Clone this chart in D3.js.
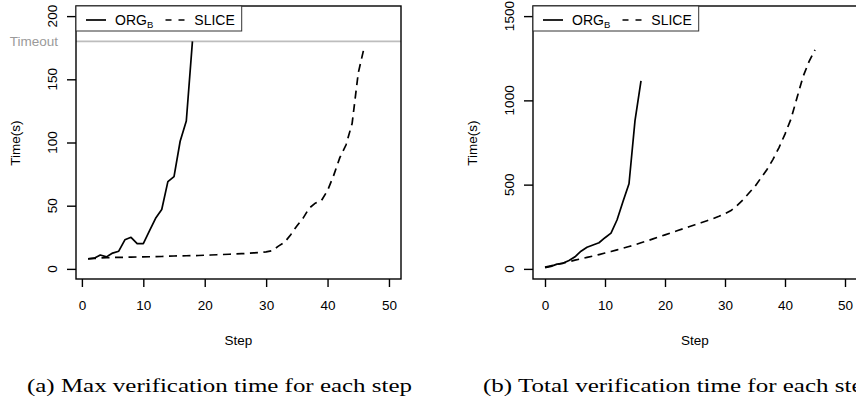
<!DOCTYPE html>
<html>
<head>
<meta charset="utf-8">
<script src="https://cdn.jsdelivr.net/npm/d3@7"></script>
<style>
  body { margin: 0; background: #fff; }
  svg { display: block; }
  text { font-family: "Liberation Sans", Arial, sans-serif; }
  text.caption { font-family: "Liberation Serif", "Times New Roman", serif; }
</style>
</head>
<body>
<svg width="856" height="406"></svg>
<script>
// (a) max verification time per step
var maxSteps = d3.range(1, 47);
var maxOrgB = [8, 8.5, 11, 9.5, 12.5, 14, 23, 25, 20, 20, 30, 40, 47, 69, 73, 101, 117, 180];
var maxSlice = [8, 8.3, 8.6, 8.8, 9, 9.1, 9.2, 9.3, 9.4, 9.5, 9.6, 9.7, 9.8, 10, 10.2, 10.3,
  10.4, 10.5, 10.6, 10.8, 11, 11.2, 11.4, 11.6, 11.8, 12, 12.3, 12.6, 13, 13.4, 14.5, 18,
  21, 27, 34, 40, 48, 52, 54, 62, 74, 88, 98, 115, 155, 176];
var timeout = 180;

// (b) total verification time per step
var totSteps = d3.range(0, 46);
var totOrgB = [8, 15, 28, 33, 50, 72, 105, 128, 142, 155, 185, 212, 290, 400, 505, 880, 1115];
var totSlice = [10, 18, 26, 35, 43, 52, 60, 68, 76, 85, 94, 103, 113, 123, 133, 143, 155, 166,
  178, 190, 202, 214, 226, 238, 250, 262, 274, 286, 298, 312, 328, 346, 375, 410, 450, 490,
  540, 590, 650, 720, 800, 890, 1015, 1140, 1230, 1300];

var xTicks = [0, 10, 20, 30, 40, 50];
var yTicksA = [0, 50, 100, 150, 200];
var yTicksB = [0, 500, 1000, 1500];

var svg = d3.select('svg');

function drawPanel(opt) {
    var x = d3.scaleLinear().domain(opt.xDomain).range([opt.left, opt.right]);
    var y = d3.scaleLinear().domain(opt.yDomain).range([279, 6]);
    var g = svg.append('g');

    // x axis ticks
    var xa = g.append('g')
        .attr('transform', 'translate(0,279)')
        .call(d3.axisBottom(x).tickValues(xTicks).tickSize(8).tickPadding(13));
    xa.select('.domain').remove();
    xa.selectAll('line').attr('stroke-width', 1.4);
    xa.selectAll('text').attr('font-size', 13.5);

    // y axis ticks
    var ya = g.append('g')
        .attr('transform', 'translate(' + opt.left + ',0)')
        .call(d3.axisLeft(y).tickValues(opt.yTicks).tickSize(9).tickFormat(''));
    ya.select('.domain').remove();
    ya.selectAll('line').attr('stroke-width', 1.4);

    g.selectAll('.ylab')
        .data(opt.yTicks)
        .enter().append('text')
        .attr('class', 'ylab')
        .attr('transform', function(d) {
            return 'translate(' + (opt.left - 19.5) + ',' + y(d) + ') rotate(-90)';
        })
        .attr('text-anchor', 'middle')
        .attr('font-size', 13.5)
        .text(function(d) { return d; });

    // axis titles
    g.append('text')
        .attr('transform', 'translate(' + (opt.left - 56) + ',143) rotate(-90)')
        .attr('text-anchor', 'middle')
        .attr('font-size', 13.5)
        .text('Time(s)');
    g.append('text')
        .attr('x', (opt.left + opt.right) / 2)
        .attr('y', 345)
        .attr('text-anchor', 'middle')
        .attr('font-size', 13.5)
        .text('Step');

    if (opt.timeout) {
        g.append('line')
            .attr('x1', opt.left).attr('x2', opt.right)
            .attr('y1', y(opt.timeout)).attr('y2', y(opt.timeout))
            .attr('stroke', '#bdbdbd').attr('stroke-width', 1.6);
        g.append('text')
            .attr('x', 58).attr('y', y(opt.timeout) + 4.8)
            .attr('text-anchor', 'end')
            .attr('font-size', 13.5)
            .attr('fill', '#9a9a9a')
            .text('Timeout');
    }

    var line = d3.line()
        .x(function(d) { return x(d[0]); })
        .y(function(d) { return y(d[1]); });

    g.append('path')
        .datum(opt.orgB.map(function(v, i) { return [opt.steps[i], v]; }))
        .attr('d', line)
        .attr('fill', 'none').attr('stroke', '#000').attr('stroke-width', 1.7)
        .attr('stroke-linejoin', 'round');
    g.append('path')
        .datum(opt.slice.map(function(v, i) { return [opt.steps[i], v]; }))
        .attr('d', line)
        .attr('fill', 'none').attr('stroke', '#000').attr('stroke-width', 1.7)
        .attr('stroke-dasharray', '8,5.5');

    // box
    g.append('rect')
        .attr('x', opt.left).attr('y', 6)
        .attr('width', opt.right - opt.left).attr('height', 273)
        .attr('fill', 'none').attr('stroke', '#000').attr('stroke-width', 1.4);

    // legend
    var lg = g.append('g').attr('transform', 'translate(' + opt.left + ',6)');
    lg.append('rect')
        .attr('width', 165.7).attr('height', 25)
        .attr('fill', '#fff').attr('stroke', '#333').attr('stroke-width', 1);
    lg.append('line')
        .attr('x1', 10).attr('x2', 30).attr('y1', 14).attr('y2', 14)
        .attr('stroke', '#000').attr('stroke-width', 1.7);
    lg.append('line')
        .attr('x1', 89.5).attr('x2', 109.5).attr('y1', 14).attr('y2', 14)
        .attr('stroke', '#000').attr('stroke-width', 1.7)
        .attr('stroke-dasharray', '6,7');
    var t = lg.append('text')
        .attr('x', 39).attr('y', 19)
        .attr('font-size', 14);
    t.append('tspan').text('ORG');
    t.append('tspan').attr('font-size', 9.5).attr('dy', 3).text('B');
    lg.append('text')
        .attr('x', 118.3).attr('y', 19)
        .attr('font-size', 14)
        .text('SLICE');
}

drawPanel({
    left: 76, right: 401,
    xDomain: [-0.96, 51.96], yDomain: [-8, 208],
    steps: maxSteps, orgB: maxOrgB, slice: maxSlice,
    yTicks: yTicksA, timeout: timeout
});
drawPanel({
    left: 533, right: 857,
    xDomain: [-2, 52], yDomain: [-60, 1560],
    steps: totSteps, orgB: totOrgB, slice: totSlice,
    yTicks: yTicksB
});

// captions
var captions = [
    { x: 27, text: '(a) Max verification time for each step', len: 385 },
    { x: 483, text: '(b) Total verification time for each step', len: 392 }
];
svg.selectAll('.caption')
    .data(captions)
    .enter().append('text')
    .attr('class', 'caption')
    .attr('x', function(d) { return d.x; })
    .attr('y', 392)
    .attr('font-size', 18)
    .attr('textLength', function(d) { return d.len; })
    .attr('lengthAdjust', 'spacingAndGlyphs')
    .text(function(d) { return d.text; });
</script>
</body>
</html>
